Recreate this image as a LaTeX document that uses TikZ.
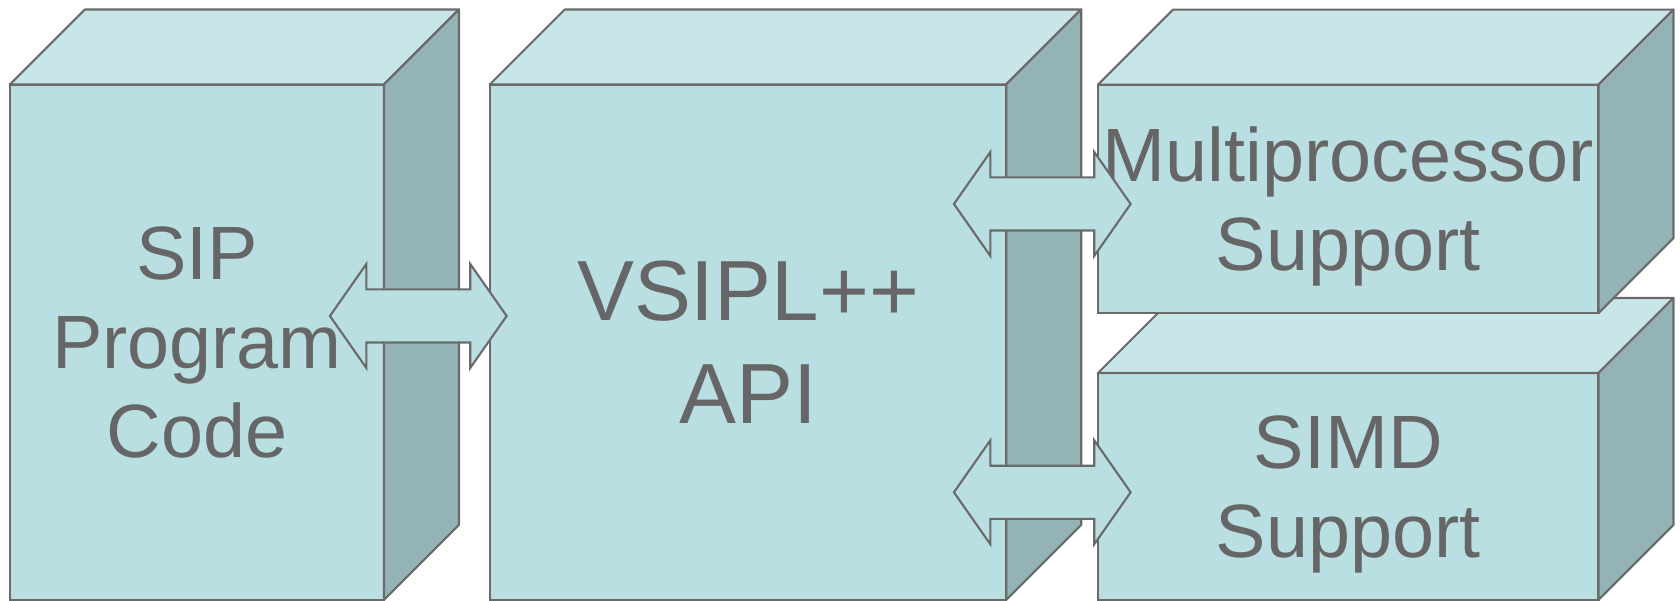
\documentclass[tikz,border=0pt]{standalone}
\usepackage{fontspec}
\setmainfont{Liberation Sans}
\usetikzlibrary{shapes.arrows}

\definecolor{frontcol}{HTML}{B9DFE2}
\definecolor{topcol}{HTML}{C8E6E8}
\definecolor{sidecol}{HTML}{94B3B6}
\definecolor{edgecol}{HTML}{6A6A6A}
\definecolor{textcol}{HTML}{666666}

\tikzset{
  frontface/.style={draw=edgecol, fill=frontcol, line width=0.6pt, inner sep=0pt, outer sep=0pt,
    align=center, text=textcol, text depth=0pt, font=\fontsize{21.5}{25.4}\selectfont},
  topface/.style={draw=edgecol, fill=topcol, line width=0.6pt, line join=round},
  sideface/.style={draw=edgecol, fill=sidecol, line width=0.6pt, line join=round},
  link/.style={double arrow, draw=edgecol, fill=frontcol, line width=0.6pt, inner xsep=0pt, inner ysep=2.55mm,
    minimum height=17.67mm, minimum width=10.2mm, double arrow head extend=2.55mm,
    double arrow tip angle=110}
}

\begin{document}
\begin{tikzpicture}[x=0.1mm, y=-0.1mm]
            \useasboundingbox (0,0) rectangle (1680,601);

            % SIP program code
            \node[frontface, minimum width=37.4mm, minimum height=51.55mm] (sip) at (197,342.25) {SIP\\Program\\Code};
            \draw[topface] (sip.north west) -- ++(75,-75) -- ([shift={(75,-75)}]sip.north east) -- (sip.north east) -- cycle;
            \draw[sideface] (sip.north east) -- ++(75,-75) -- ([shift={(75,-75)}]sip.south east) -- (sip.south east) -- cycle;

            % VSIPL++ API
            \node[frontface, minimum width=51.65mm, minimum height=51.55mm, font=\fontsize{24.3}{29.1}\selectfont] (api) at (748,342.25) {VSIPL++\\API};
            \draw[topface] (api.north west) -- ++(75,-75) -- ([shift={(75,-75)}]api.north east) -- (api.north east) -- cycle;
            \draw[sideface] (api.north east) -- ++(75,-75) -- ([shift={(75,-75)}]api.south east) -- (api.south east) -- cycle;

            % SIMD support, drawn before the box above it
            \node[frontface, minimum width=50.05mm, minimum height=22.7mm] (simd) at (1348.25,486.5) {SIMD\\Support};
            \draw[topface] (simd.north west) -- ++(75,-75) -- ([shift={(75,-75)}]simd.north east) -- (simd.north east) -- cycle;
            \draw[sideface] (simd.north east) -- ++(75,-75) -- ([shift={(75,-75)}]simd.south east) -- (simd.south east) -- cycle;

            % multiprocessor support
            \node[frontface, minimum width=50.05mm, minimum height=22.85mm] (multi) at (1348.25,198.9) {Multiprocessor\\Support};
            \draw[topface] (multi.north west) -- ++(75,-75) -- ([shift={(75,-75)}]multi.north east) -- (multi.north east) -- cycle;
            \draw[sideface] (multi.north east) -- ++(75,-75) -- ([shift={(75,-75)}]multi.south east) -- (multi.south east) -- cycle;

            % two-way links
            \node[link] (sip-api) at (418.3,316) {};
            \node[link] (api-multi) at (1042.3,204) {};
            \node[link] (api-simd) at (1042.3,492.3) {};
        \end{tikzpicture}
\end{document}
